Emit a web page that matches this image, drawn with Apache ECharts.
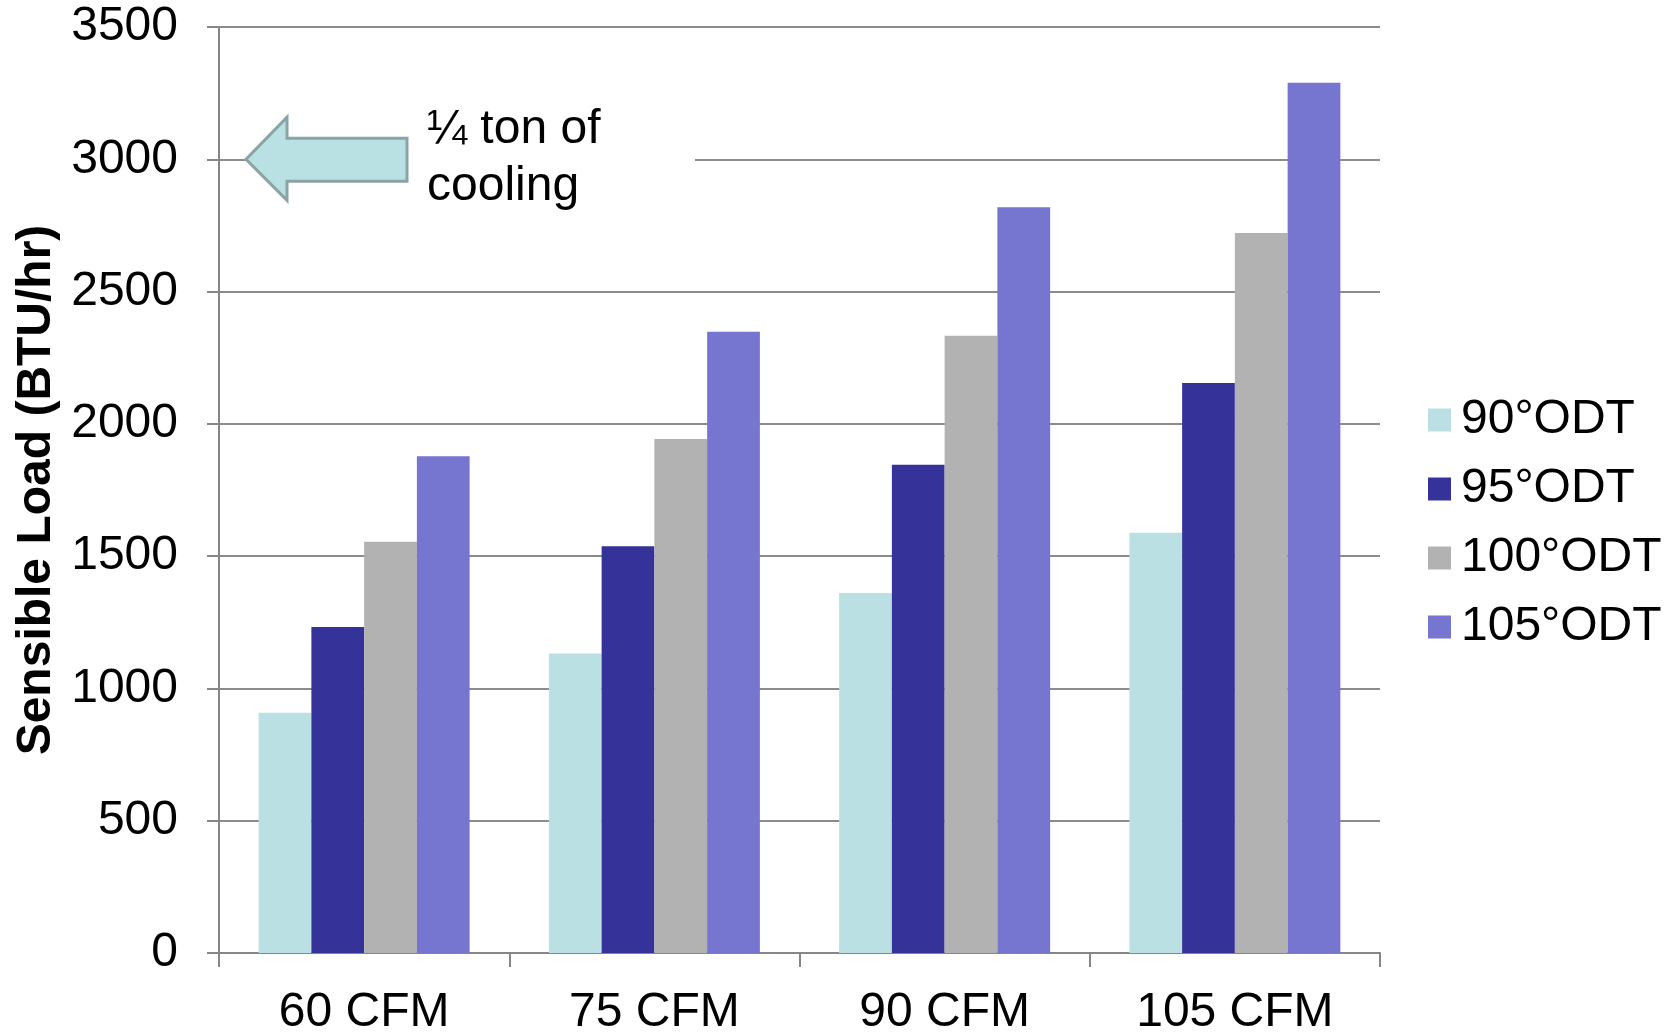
<!DOCTYPE html>
<html>
<head>
<meta charset="utf-8">
<script src="https://cdn.jsdelivr.net/npm/echarts@6/dist/echarts.min.js"></script>
<style>
  html, body { margin: 0; padding: 0; background: #ffffff; }
  #chart { width: 1677px; height: 1032px; }
</style>
</head>
<body>
<div id="chart"></div>
<script>
// ---- data ----
const categories = ['60 CFM', '75 CFM', '90 CFM', '105 CFM'];
const seriesNames = ['90°ODT', '95°ODT', '100°ODT', '105°ODT'];
const odt90 = [908, 1132, 1361, 1588];
const odt95 = [1232, 1537, 1845, 2154];
const odt100 = [1554, 1943, 2333, 2721];
const odt105 = [1878, 2348, 2819, 3289];
const yTicks = { min: 0, max: 3500, interval: 500 };
const yTitle = 'Sensible Load (BTU/hr)';
const noteText = '¼ ton of\ncooling';
const noteValue = 3000;

const colors = ['#bae0e3', '#353399', '#b2b2b2', '#7675d0'];
const FONT = "'Liberation Sans', Arial, sans-serif";

const chart = echarts.init(document.getElementById('chart'), null, { renderer: 'canvas' });

const allSeries = [odt90, odt95, odt100, odt105].map((d, i) => ({
  name: seriesNames[i],
  type: 'bar',
  data: d,
  barGap: '0%',
  barCategoryGap: '27.3%',
  itemStyle: { color: colors[i] },
  emphasis: { disabled: true },
  z: 3
}));

chart.setOption({
  animation: false,
  backgroundColor: '#ffffff',
  textStyle: { fontFamily: FONT },
  grid: { left: 219, top: 27, width: 1161, height: 926, containLabel: false, outerBoundsMode: 'none' },
  legend: {
    data: seriesNames,
    orient: 'vertical',
    left: 1428,
    top: 396,
    padding: 0,
    icon: 'rect',
    itemWidth: 23,
    itemHeight: 23,
    itemGap: 21,
    textStyle: { fontSize: 48, color: '#000000', fontFamily: FONT, lineHeight: 48, padding: [0, 0, 0, 5] },
    selectedMode: false
  },
  xAxis: {
    type: 'category',
    data: categories,
    boundaryGap: true,
    axisLine: { show: true, lineStyle: { color: '#868686', width: 2 } },
    axisTick: { show: true, alignWithLabel: false, length: 14, lineStyle: { color: '#868686', width: 2 } },
    axisLabel: { fontSize: 48, color: '#000000', margin: 36, fontFamily: FONT },
    splitLine: { show: false }
  },
  yAxis: {
    type: 'value',
    min: yTicks.min,
    max: yTicks.max,
    interval: yTicks.interval,
    name: yTitle,
    nameLocation: 'middle',
    nameRotate: 90,
    nameGap: 156,
    nameTextStyle: { fontSize: 48, fontWeight: 'bold', color: '#000000', fontFamily: FONT },
    axisLine: { show: true, lineStyle: { color: '#868686', width: 2 } },
    axisTick: { show: true, inside: false, length: 12, lineStyle: { color: '#868686', width: 2 } },
    axisLabel: { fontSize: 48, color: '#000000', margin: 41, fontFamily: FONT, formatter: v => String(v) },
    splitLine: { show: true, lineStyle: { color: '#8c8c8c', width: 2 } }
  },
  series: allSeries
});

// annotation anchored to the 3000 level of the value axis
const y0 = chart.convertToPixel({ yAxisIndex: 0 }, noteValue);
chart.setOption({
  graphic: [
    {
      type: 'rect',
      z: 50,
      shape: { x: 408, y: y0 - 55, width: 287, height: 110 },
      style: { fill: '#ffffff' }
    },
    {
      type: 'polygon',
      z: 51,
      shape: {
        points: [
          [246, y0], [287, y0 - 42], [287, y0 - 21], [407, y0 - 21],
          [407, y0 + 22], [287, y0 + 22], [287, y0 + 41]
        ]
      },
      style: { fill: '#b9e0e3', stroke: '#8aa3a5', lineWidth: 3, lineJoin: 'miter' }
    },
    {
      type: 'text',
      z: 52,
      x: 427,
      y: y0 - 58,
      style: {
        text: noteText,
        font: "48px 'Liberation Sans', Arial, sans-serif",
        fill: '#000000',
        lineHeight: 57,
        verticalAlign: 'top',
        align: 'left'
      }
    }
  ]
});
</script>
</body>
</html>
